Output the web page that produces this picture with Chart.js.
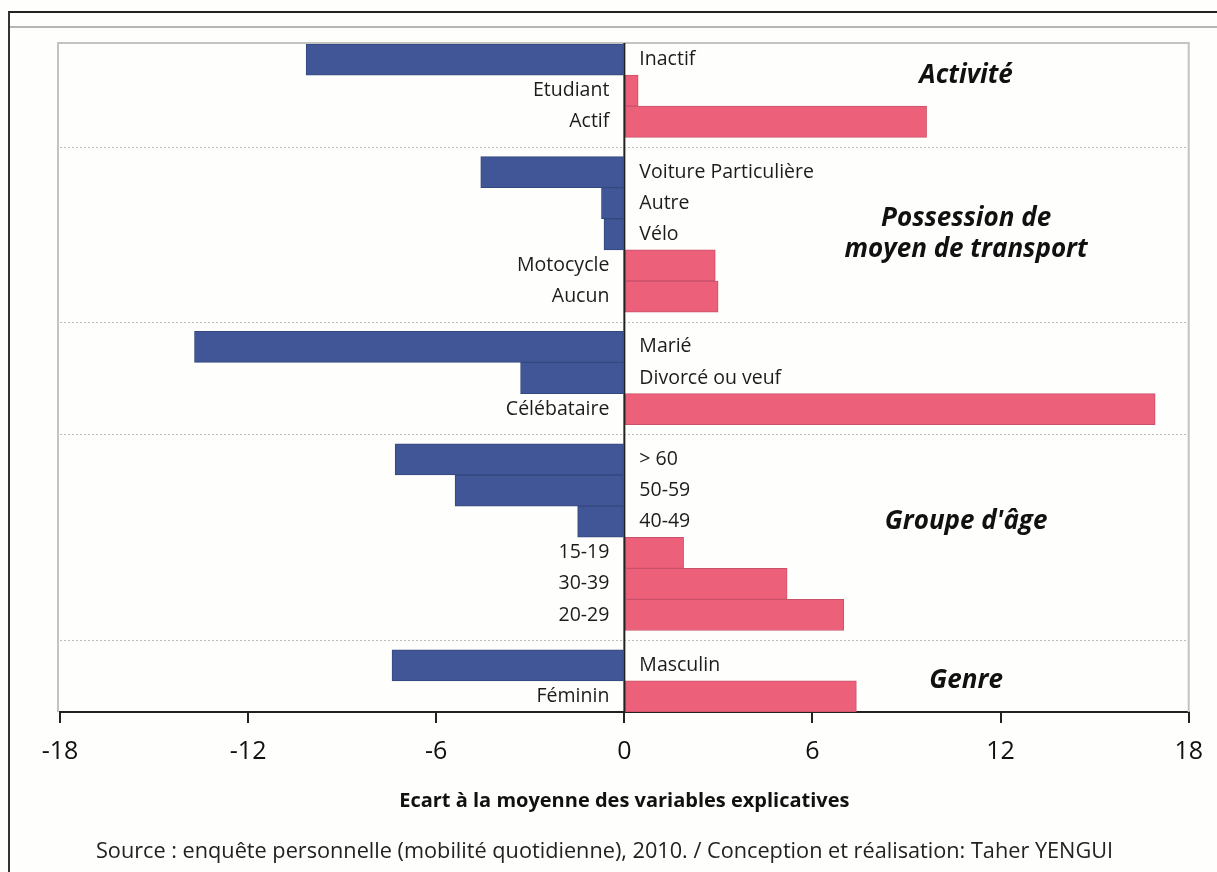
<!DOCTYPE html>
<html>
<head>
<meta charset="utf-8">
<script src="https://cdn.jsdelivr.net/npm/chart.js@4.4.1/dist/chart.umd.min.js"></script>
<style>
  html, body { margin: 0; padding: 0; background: #fefefc; }
  #wrap { position: relative; width: 1217px; height: 872px; overflow: hidden; }
  #frame { position: absolute; left: 8px; top: 11px; right: -5px; bottom: -5px;
           border-top: 2px solid #222; border-left: 2px solid #333; }
  #rule { position: absolute; left: 10px; right: 0; top: 26px; border-top: 2px solid #b5b5b5; }
  #c { position: absolute; left: 0; top: 0; }
</style>
</head>
<body>
<div id="wrap">
  <div id="frame"></div>
  <div id="rule"></div>
  <canvas id="c" width="1217" height="872"></canvas>
</div>
<script>
// rows, top to bottom
const categories = ['Inactif', 'Etudiant', 'Actif',
    'Voiture Particulière', 'Autre', 'Vélo', 'Motocycle', 'Aucun',
    'Marié', 'Divorcé ou veuf', 'Célébataire',
    '> 60', '50-59', '40-49', '15-19', '30-39', '20-29',
    'Masculin', 'Féminin'];
const groupOf = [0, 0, 0, 1, 1, 1, 1, 1, 2, 2, 2, 3, 3, 3, 3, 3, 3, 4, 4];
const values = [-10.15, 0.44, 9.64,
    -4.58, -0.73, -0.65, 2.90, 2.99,
    -13.71, -3.31, 16.93,
    -7.31, -5.40, -1.49, 1.89, 5.19, 7.00,
    -7.41, 7.40];
const groupTitles = [['Activité'], ['Possession de', 'moyen de transport'], [], ["Groupe d'âge"], ['Genre']];
const xTicks = [-18, -12, -6, 0, 6, 12, 18];
const sourceText = 'Source : enquête personnelle (mobilité quotidienne), 2010. / Conception et réalisation: Taher YENGUI';

const GAP = 0.62;            // extra space between groups, in rows
const titleRow = [0.5, 2, 0, 2, 0.5];   // where each group title sits inside its group
const TITLE_X = 10.9;

const BLUE = '#405696', PINK = '#ec607a';
const FONT = "'Open Sans', 'Noto Sans', sans-serif";

const pos = categories.map((c, i) => i + groupOf[i] * GAP);
const groupStart = [];
groupOf.forEach((g, i) => { if (groupStart[g] === undefined) groupStart[g] = i; });

const extras = {
  id: 'extras',
  beforeDatasetsDraw(chart) {
    const { ctx, chartArea: a, scales: { y } } = chart;
    ctx.save();
    // plot frame
    ctx.strokeStyle = '#c3c3c3';
    ctx.lineWidth = 2;
    ctx.beginPath();
    ctx.moveTo(a.left - 2, a.bottom);
    ctx.lineTo(a.left - 2, a.top - 1);
    ctx.lineTo(a.right, a.top - 1);
    ctx.lineTo(a.right, a.bottom);
    ctx.stroke();
    // dotted separators between groups
    ctx.strokeStyle = '#bdbdbd';
    ctx.lineWidth = 1;
    ctx.setLineDash([2, 2]);
    for (let g = 1; g < groupStart.length; g++) {
      const i = groupStart[g];
      const yy = Math.round(y.getPixelForValue((pos[i] + pos[i - 1]) / 2)) + 0.5;
      ctx.beginPath();
      ctx.moveTo(a.left, yy);
      ctx.lineTo(a.right, yy);
      ctx.stroke();
    }
    ctx.restore();
  },
  afterDatasetsDraw(chart) {
    const { ctx, chartArea: a, scales: { x, y } } = chart;
    const x0 = x.getPixelForValue(0);
    ctx.save();
    // zero line
    ctx.strokeStyle = '#222';
    ctx.lineWidth = 2;
    ctx.beginPath();
    ctx.moveTo(x0, a.top - 1);
    ctx.lineTo(x0, a.bottom);
    ctx.stroke();
    // bar labels on the opposite side of zero
    const bars = chart.getDatasetMeta(0).data;
    ctx.fillStyle = '#1c1c1c';
    ctx.font = '19.5px ' + FONT;
    ctx.textBaseline = 'middle';
    bars.forEach((b, i) => {
      if (values[i] < 0) {
        ctx.textAlign = 'left';
        ctx.fillText(categories[i], x0 + 15, b.y);
      } else {
        ctx.textAlign = 'right';
        ctx.fillText(categories[i], x0 - 15, b.y);
      }
    });
    // group titles
    ctx.font = 'italic bold 26px ' + FONT;
    ctx.textAlign = 'center';
    ctx.fillStyle = '#111';
    const tx = x.getPixelForValue(TITLE_X);
    groupTitles.forEach((lines, g) => {
      if (!lines.length) return;
      const cy = y.getPixelForValue(pos[groupStart[g]] + titleRow[g]);
      lines.forEach((t, k) => {
        ctx.fillText(t, tx, cy + (k - (lines.length - 1) / 2) * 31);
      });
    });
    ctx.restore();
  },
  afterDraw(chart) {
    const { ctx, width, height } = chart;
    ctx.save();
    ctx.font = '21.7px ' + FONT;
    ctx.fillStyle = '#222';
    ctx.textAlign = 'center';
    ctx.textBaseline = 'middle';
    ctx.fillText(sourceText, width / 2 - 4, height - 20);
    ctx.restore();
  }
};

new Chart(document.getElementById('c'), {
  type: 'bar',
  data: {
    datasets: [{
      data: values.map((v, i) => ({ x: v, y: pos[i] })),
      backgroundColor: values.map(v => v < 0 ? BLUE : PINK),
      borderColor: values.map(v => v < 0 ? '#34477f' : '#c9526a'),
      borderWidth: 1,
      borderSkipped: false,
      barPercentage: 1,
      categoryPercentage: 1
    }]
  },
  plugins: [extras],
  options: {
    indexAxis: 'y',
    responsive: false,
    animation: false,
    layout: { padding: { left: 60, right: 27, top: 44, bottom: 55 } },
    plugins: {
      legend: { display: false },
      tooltip: { enabled: false }
    },
    scales: {
      y: {
        type: 'linear',
        reverse: true,
        offset: false,
        min: pos[0] - 0.5,
        max: pos[pos.length - 1] + 0.5,
        afterBuildTicks: s => { s.ticks = pos.map(v => ({ value: v })); },
        display: false
      },
      x: {
        type: 'linear',
        min: xTicks[0],
        max: xTicks[xTicks.length - 1],
        afterBuildTicks: s => { s.ticks = xTicks.map(v => ({ value: v })); },
        ticks: {
          color: '#111',
          padding: 14,
          font: { family: FONT, size: 25 }
        },
        grid: {
          drawOnChartArea: false,
          color: '#222',
          lineWidth: 2,
          tickLength: 11
        },
        border: { color: '#222', width: 2 },
        title: {
          display: true,
          text: 'Ecart à la moyenne des variables explicatives',
          color: '#111',
          font: { family: FONT, size: 20, weight: 'bold' },
          padding: { top: 8, bottom: 4 }
        }
      }
    }
  }
});
</script>
</body>
</html>
